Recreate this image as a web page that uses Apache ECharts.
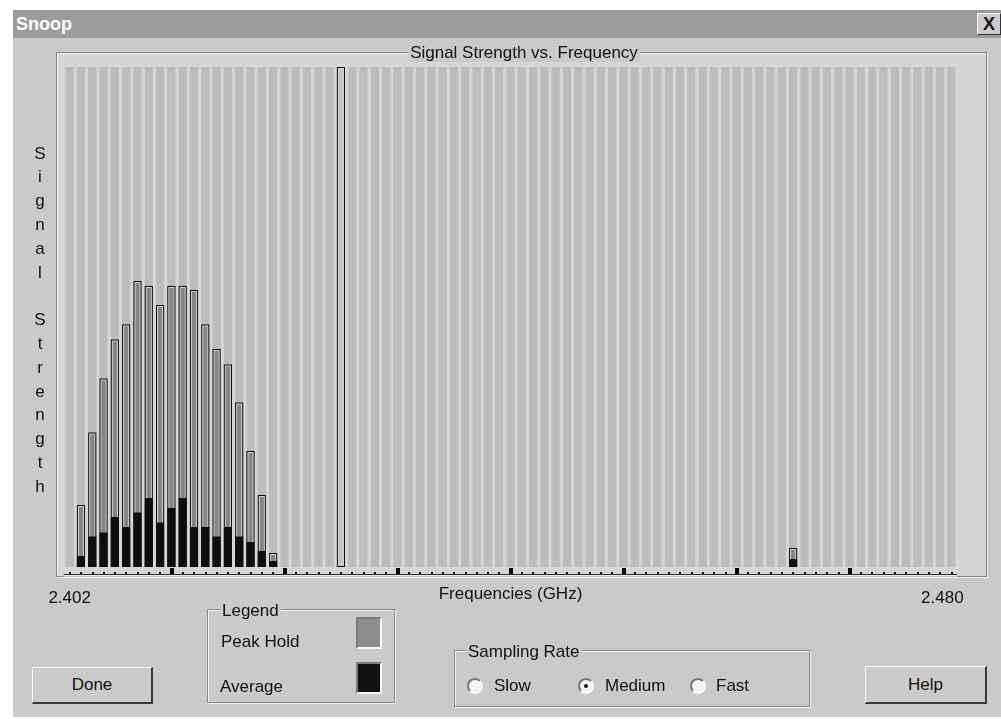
<!DOCTYPE html>
<html>
<head>
<meta charset="utf-8">
<script src="https://cdn.jsdelivr.net/npm/echarts@6/dist/echarts.min.js"></script>
<style>
  html, body { margin: 0; padding: 0; background: #ffffff; }
  body { width: 1001px; height: 719px; position: relative; overflow: hidden;
         font-family: 'Liberation Sans', Arial, sans-serif; font-size: 17px; color: #111; }
  .abs { position: absolute; }
  .dlg { left: 13px; top: 10px; width: 988px; height: 707px; background: #cacaca; }
  .titlebar { left: 13px; top: 10px; width: 988px; height: 28px; background: #9b9b9b; }
  .titlebar span { position: absolute; left: 3px; top: 3px; line-height: 22px; font-size: 18px; font-weight: bold; color: #fff; }
  .close { left: 977px; top: 13px; width: 22px; height: 20px; background: #cccccc;
           border-top: 1px solid #fff; border-left: 1px solid #fff; border-bottom: 1px solid #333; border-right: 1px solid #333;
           text-align: center; line-height: 20px; font-weight: bold; font-size: 18px; }
  .frame { left: 56px; top: 52px; width: 929px; height: 523px; border: 1px solid #858585;
           box-shadow: inset 1px 1px 0 #f2f2f2, 1px 1px 0 #f2f2f2; background: #d6d6d6; }
  .group { border: 1px solid #8a8a8a; box-shadow: inset 1px 1px 0 #f2f2f2, 1px 1px 0 #f2f2f2; }
  .txt { position: absolute; line-height: 20px; white-space: nowrap; }
  .cap { background: #cacaca; padding: 0 2px; }
  .swatch { width: 22px; height: 28px; border-top: 2px solid #7a7a7a; border-left: 2px solid #7a7a7a;
            border-bottom: 2px solid #fafafa; border-right: 2px solid #fafafa; }
  .btn { background: #cbcbcb; border-top: 1px solid #fafafa; border-left: 1px solid #fafafa;
         border-bottom: 2px solid #3a3a3a; border-right: 2px solid #3a3a3a;
         display: flex; align-items: center; justify-content: center; box-sizing: border-box; }
  .radio { width: 16px; height: 16px; border-radius: 50%; background: #f4f4f4; box-sizing: border-box;
           border: 2px solid; border-color: #7a7a7a #f8f8f8 #f8f8f8 #7a7a7a; }
  .radio.on::after { content: ''; position: absolute; left: 4px; top: 4px; width: 4px; height: 4px; border-radius: 50%; background: #111; }
  #chart { position: absolute; left: 0; top: 0; width: 1001px; height: 719px; }
</style>
</head>
<body>
<div class="abs dlg"></div>
<div class="abs titlebar"><span>Snoop</span></div>
<div class="abs close">X</div>
<div class="abs frame"></div>

<div id="chart"></div>

<div class="abs group" style="left:207px;top:609px;width:186px;height:92px;"></div>
<span class="txt cap" style="left:220px;top:601px;">Legend</span>
<span class="txt" style="left:221px;top:632px;">Peak Hold</span>
<span class="txt" style="left:220px;top:677px;">Average</span>
<div class="abs swatch" style="left:356px;top:617px;background:#8d8d8d;"></div>
<div class="abs swatch" style="left:356px;top:662px;background:#121212;"></div>

<div class="abs btn" style="left:32px;top:667px;width:121px;height:37px;">Done</div>

<div class="abs group" style="left:454px;top:650px;width:354px;height:55px;"></div>
<span class="txt cap" style="left:466px;top:642px;">Sampling Rate</span>
<div class="abs radio" style="left:467px;top:678px;"></div>
<span class="txt" style="left:494px;top:676px;">Slow</span>
<div class="abs radio on" style="left:578px;top:678px;"></div>
<span class="txt" style="left:605px;top:676px;">Medium</span>
<div class="abs radio" style="left:690px;top:678px;"></div>
<span class="txt" style="left:716px;top:676px;">Fast</span>

<div class="abs btn" style="left:865px;top:666px;width:122px;height:38px;">Help</div>

<script>
// channel frequencies (GHz)
const freqs = [
  '2.402', '2.403', '2.404', '2.405', '2.406', '2.407', '2.408', '2.409', '2.410', '2.411',
  '2.412', '2.413', '2.414', '2.415', '2.416', '2.417', '2.418', '2.419', '2.420', '2.421',
  '2.422', '2.423', '2.424', '2.425', '2.426', '2.427', '2.428', '2.429', '2.430', '2.431',
  '2.432', '2.433', '2.434', '2.435', '2.436', '2.437', '2.438', '2.439', '2.440', '2.441',
  '2.442', '2.443', '2.444', '2.445', '2.446', '2.447', '2.448', '2.449', '2.450', '2.451',
  '2.452', '2.453', '2.454', '2.455', '2.456', '2.457', '2.458', '2.459', '2.460', '2.461',
  '2.462', '2.463', '2.464', '2.465', '2.466', '2.467', '2.468', '2.469', '2.470', '2.471',
  '2.472', '2.473', '2.474', '2.475', '2.476', '2.477', '2.478', '2.479', '2.480'
]
// signal strength, 0..100 of full scale
const peakHold = [
  0, 12.4, 26.9, 37.7, 45.5, 48.5, 57.2, 56.2, 52.4, 56.2,
  56.2, 55.4, 48.5, 43.6, 40.5, 32.9, 23.2, 14.4, 2.8, 0,
  0, 0, 0, 0, 100, 0, 0, 0, 0, 0,
  0, 0, 0, 0, 0, 0, 0, 0, 0, 0,
  0, 0, 0, 0, 0, 0, 0, 0, 0, 0,
  0, 0, 0, 0, 0, 0, 0, 0, 0, 0,
  0, 0, 0, 0, 3.8, 0, 0, 0, 0, 0,
  0, 0, 0, 0, 0, 0, 0, 0, 0
]
const average = [
  0, 2.2, 6.1, 6.9, 10.0, 8.0, 10.9, 13.8, 8.9, 11.8,
  13.8, 8.0, 8.0, 6.1, 8.0, 6.1, 5.0, 3.2, 1.2, 0,
  0, 0, 0, 0, 0, 0, 0, 0, 0, 0,
  0, 0, 0, 0, 0, 0, 0, 0, 0, 0,
  0, 0, 0, 0, 0, 0, 0, 0, 0, 0,
  0, 0, 0, 0, 0, 0, 0, 0, 0, 0,
  0, 0, 0, 0, 1.6, 0, 0, 0, 0, 0,
  0, 0, 0, 0, 0, 0, 0, 0, 0
]
const yMin = -1.4   // small gap between the bars' base and the tick row
const yMax = 100
const FONT = "'Liberation Sans', Arial, sans-serif"

function renderStripe(params, api) {
  const i = api.value(0)
  const top = api.coord([i, yMax]), base = api.coord([i, 0])
  const w = api.size([1, 0])[0] * 0.72
  return { type: 'rect', shape: { x: base[0] - w / 2, y: top[1], width: w, height: base[1] - top[1] },
           style: { fill: '#bcbcbc' }, silent: true }
}

function renderBar(params, api) {
  const i = api.value(0), peak = api.value(1), avg = api.value(2)
  if (!peak) return null
  const base = api.coord([i, 0]), top = api.coord([i, peak]), mid = api.coord([i, avg])
  const w = api.size([1, 0])[0] * 0.72
  const x = base[0] - w / 2, h = base[1] - top[1]
  const children = [
    { type: 'rect', shape: { x: x, y: top[1], width: w, height: h }, style: { fill: '#0e0e0e' } },
    { type: 'rect', shape: { x: x + 1, y: top[1] + 1, width: w - 2, height: h - 2 }, style: { fill: '#d2d2d2' } },
    { type: 'rect', shape: { x: x + 2, y: top[1] + 2, width: w - 4, height: h - 3 }, style: { fill: avg ? '#858585' : '#c4c4c4' } }
  ]
  if (avg) children.push({ type: 'rect', shape: { x: x, y: mid[1], width: w, height: base[1] - mid[1] }, style: { fill: '#0e0e0e' } })
  return { type: 'group', children: children }
}

const chart = echarts.init(document.getElementById('chart'), null, { renderer: 'canvas' })
chart.setOption({
  animation: false,
  backgroundColor: 'transparent',
  title: {
    text: 'Signal Strength vs. Frequency', left: 522, top: 45, textAlign: 'center',
    padding: [0, 2], backgroundColor: '#cacaca',
    textStyle: { fontFamily: FONT, fontSize: 17, fontWeight: 'normal', color: '#111' }
  },
  grid: { left: 64, top: 67, width: 893, height: 507 },
  xAxis: [
    {
      type: 'category', data: freqs,
      axisLine: { onZero: false, lineStyle: { color: '#2e2e2e', width: 1, shadowColor: '#fafafa', shadowOffsetY: 1.5 } },
      axisTick: { show: true, alignWithLabel: true, interval: 0, inside: true, length: 2, lineStyle: { color: '#111', width: 2 } },
      axisLabel: {
        interval: (idx) => idx === 0 || idx === freqs.length - 1,
        margin: 16, color: '#111', fontFamily: FONT, fontSize: 17,
        formatter: (v, idx) => idx === freqs.length - 1 ? '{end|' + v + '}' : v,
        rich: { end: { fontFamily: FONT, fontSize: 17, color: '#111', padding: [0, 18, 0, 0] } }
      },
      name: 'Frequencies (GHz)', nameLocation: 'middle', nameGap: 12, nameMoveOverlap: false,
      nameTextStyle: { fontFamily: FONT, fontSize: 17, color: '#111' }
    },
    {
      type: 'category', data: freqs, position: 'bottom',
      axisLine: { show: false, onZero: false },
      axisTick: { show: true, alignWithLabel: true, interval: (idx) => idx % 10 === 9, inside: true, length: 6, lineStyle: { color: '#0a0a0a', width: 4 } },
      axisLabel: { show: false }
    }
  ],
  yAxis: {
    type: 'value', min: yMin, max: yMax,
    axisLine: { show: false }, axisTick: { show: false }, axisLabel: { show: false }, splitLine: { show: false },
    name: 'Signal Strength'.split('').join('\n'), nameLocation: 'middle', nameRotate: 0, nameGap: 24,
    nameTextStyle: { fontFamily: FONT, fontSize: 17, color: '#111', lineHeight: 23.8, align: 'center', verticalAlign: 'middle' }
  },
  series: [
    {
      name: 'channels', type: 'custom', renderItem: renderStripe, silent: true,
      data: freqs.map((f, i) => [i]), encode: { x: 0 }
    },
    {
      name: 'Peak Hold / Average', type: 'custom', renderItem: renderBar, silent: true,
      data: freqs.map((f, i) => [i, peakHold[i], average[i]]), encode: { x: 0, y: 1 }
    }
  ]
})
</script>
</body>
</html>
